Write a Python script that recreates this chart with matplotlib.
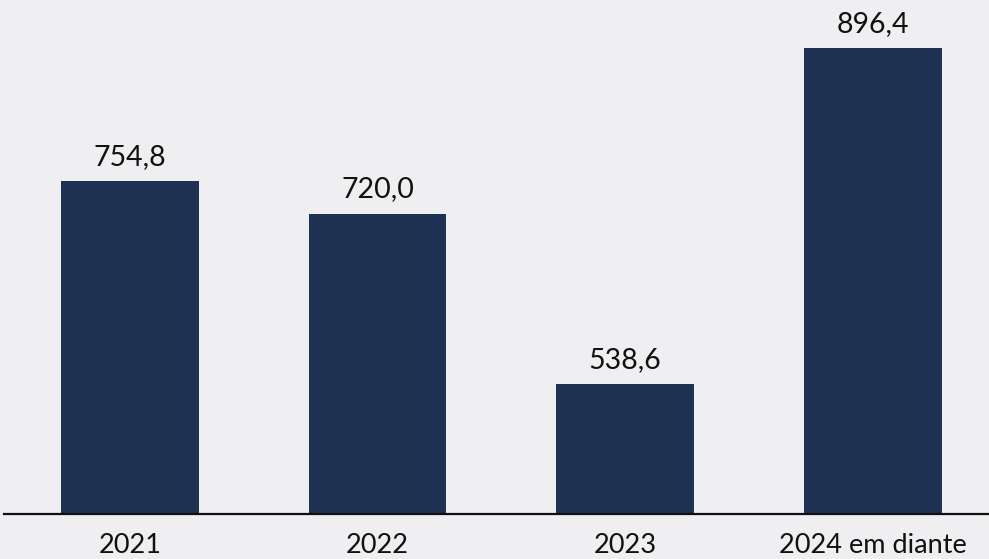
import matplotlib.pyplot as plt

categories = ['2021', '2022', '2023', '2024 em diante']
values = [754.8, 720.0, 538.6, 896.4]
labels = ['754,8', '720,0', '538,6', '896,4']

plt.rcParams['font.family'] = ['Lato', 'DejaVu Sans']

fig = plt.figure(figsize=(9.89, 5.59), dpi=100, facecolor='#efeff1')
ax = fig.add_axes([4 / 989, 45 / 559, 985 / 989, 514 / 559])
ax.set_facecolor('#efeff1')

x = range(len(categories))
bars = ax.bar(x, values, width=0.557, color='#1e3153')
ax.set_ylim(400, 400 + 514 / 0.9388)
ax.set_xlim(-0.509, 3.47)

for xi, v, lab in zip(x, values, labels):
    ax.text(xi, v + 12, lab, ha='center', va='bottom', fontsize=20.5, color='#111111')

ax.set_xticks(list(x))
ax.set_xticklabels(categories, fontsize=19.5, color='#111111')
ax.tick_params(axis='x', length=0, pad=14)
ax.set_yticks([])
for s in ['top', 'right', 'left']:
    ax.spines[s].set_visible(False)
ax.spines['bottom'].set_linewidth(1.6)
ax.spines['bottom'].set_color('#111111')

fig.savefig('out.png', dpi=100, facecolor=fig.get_facecolor())
